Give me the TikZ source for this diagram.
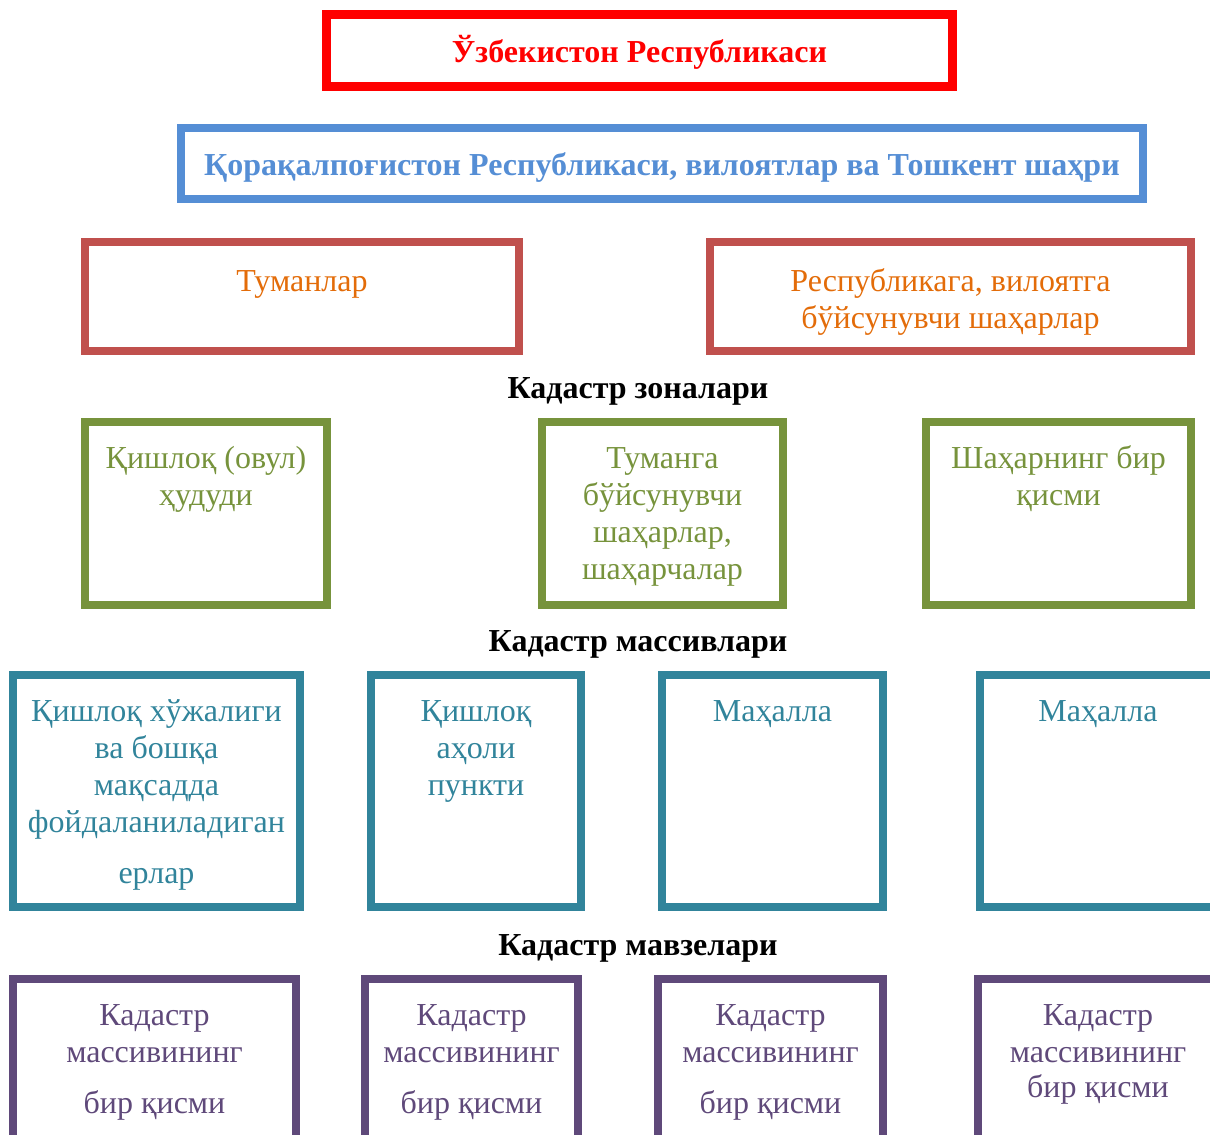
\documentclass[tikz,border=0pt]{standalone}
\usepackage{fontspec}
\setmainfont{Liberation Serif}
\definecolor{cRed}{HTML}{FF0000}
\definecolor{cBlue}{HTML}{558ED5}
\definecolor{cBrown}{HTML}{C0504D}
\definecolor{cOrange}{HTML}{E36C09}
\definecolor{cGreen}{HTML}{77933C}
\definecolor{cTeal}{HTML}{31849B}
\definecolor{cPurple}{HTML}{5F497A}
\begin{document}
\begin{tikzpicture}[x=0.75pt,y=-0.75pt,
  box/.style={draw=#1, line width=6pt, minimum width=0pt, minimum height=0pt, inner sep=0pt, fill=none},
  txt/.style={anchor=base, inner sep=0pt, text=#1, font=\fontsize{24}{28}\selectfont},
  head/.style={anchor=base, inner sep=0pt, font=\fontsize{24}{28}\selectfont\bfseries}
]
\useasboundingbox (0,0) rectangle (1210,1135);
\begin{scope}
\clip (0,0) rectangle (1210,1135);
% level 1
\node[box=cRed, line width=6.75pt, minimum width=626*0.75pt, minimum height=72*0.75pt] (uz) at (639.5,50.5) {};
\node[head, text=cRed] (uzt) at (639.5,62) {Ўзбекистон Республикаси};
% level 2
\node[box=cBlue, minimum width=962*0.75pt, minimum height=71*0.75pt] (reg) at (662,163.5) {};
\node[head, text=cBlue] (regt) at (662,175) {Қорақалпоғистон Республикаси, вилоятлар ва Тошкент шаҳри};
% level 3
\node[box=cBrown, minimum width=434*0.75pt, minimum height=109*0.75pt] (tum) at (302,296.5) {};
\node[txt=cOrange] (tumt) at (302,291) {Туманлар};
\node[box=cBrown, minimum width=481*0.75pt, minimum height=109*0.75pt] (sha) at (950.5,296.5) {};
\node[txt=cOrange] (shat1) at (950.5,291) {Республикага, вилоятга};
\node[txt=cOrange] (shat2) at (950.5,328) {бўйсунувчи шаҳарлар};
% heading
\node[head] (h1) at (638,398) {Кадастр зоналари};
% level 4
\node[box=cGreen, minimum width=242*0.75pt, minimum height=183*0.75pt] (g1) at (206,513.5) {};
\node[txt=cGreen] (g1a) at (206,468) {Қишлоқ (овул)};
\node[txt=cGreen] (g1b) at (206,505) {ҳудуди};
\node[box=cGreen, minimum width=241*0.75pt, minimum height=183*0.75pt] (g2) at (662.5,513.5) {};
\node[txt=cGreen] (g2a) at (662.5,468) {Туманга};
\node[txt=cGreen] (g2b) at (662.5,505) {бўйсунувчи};
\node[txt=cGreen] (g2c) at (662.5,542) {шаҳарлар,};
\node[txt=cGreen] (g2d) at (662.5,579) {шаҳарчалар};
\node[box=cGreen, minimum width=265*0.75pt, minimum height=183*0.75pt] (g3) at (1058.5,513.5) {};
\node[txt=cGreen] (g3a) at (1058.5,468) {Шаҳарнинг бир};
\node[txt=cGreen] (g3b) at (1058.5,505) {қисми};
% heading
\node[head] (h2) at (638,651) {Кадастр массивлари};
% level 5
\node[box=cTeal, minimum width=287*0.75pt, minimum height=232*0.75pt] (m1) at (156.5,791) {};
\node[txt=cTeal] (m1a) at (156.5,721) {Қишлоқ хўжалиги};
\node[txt=cTeal] (m1b) at (156.5,758) {ва бошқа};
\node[txt=cTeal] (m1c) at (156.5,795) {мақсадда};
\node[txt=cTeal] (m1d) at (156.5,832) {фойдаланиладиган};
\node[txt=cTeal] (m1e) at (156.5,883) {ерлар};
\node[box=cTeal, minimum width=210*0.75pt, minimum height=232*0.75pt] (m2) at (476,791) {};
\node[txt=cTeal] (m2a) at (476,721) {Қишлоқ};
\node[txt=cTeal] (m2b) at (476,758) {аҳоли};
\node[txt=cTeal] (m2c) at (476,795) {пункти};
\node[box=cTeal, minimum width=221*0.75pt, minimum height=232*0.75pt] (m3) at (772.5,791) {};
\node[txt=cTeal] (m3a) at (772.5,721) {Маҳалла};
\node[box=cTeal, minimum width=236*0.75pt, minimum height=232*0.75pt] (m4) at (1098,791) {};
\node[txt=cTeal] (m4a) at (1098,721) {Маҳалла};
% heading
\node[head] (h3) at (638,955) {Кадастр мавзелари};
% level 6
\node[box=cPurple, minimum width=283*0.75pt, minimum height=167*0.75pt] (p1) at (154.5,1062.5) {};
\node[txt=cPurple] (p1a) at (154.5,1025) {Кадастр};
\node[txt=cPurple] (p1b) at (154.5,1062) {массивининг};
\node[txt=cPurple] (p1c) at (154.5,1113) {бир қисми};
\node[box=cPurple, minimum width=213*0.75pt, minimum height=167*0.75pt] (p2) at (471.5,1062.5) {};
\node[txt=cPurple] (p2a) at (471.5,1025) {Кадастр};
\node[txt=cPurple] (p2b) at (471.5,1062) {массивининг};
\node[txt=cPurple] (p2c) at (471.5,1113) {бир қисми};
\node[box=cPurple, minimum width=225*0.75pt, minimum height=167*0.75pt] (p3) at (770.5,1062.5) {};
\node[txt=cPurple] (p3a) at (770.5,1025) {Кадастр};
\node[txt=cPurple] (p3b) at (770.5,1062) {массивининг};
\node[txt=cPurple] (p3c) at (770.5,1113) {бир қисми};
\node[box=cPurple, minimum width=240*0.75pt, minimum height=167*0.75pt] (p4) at (1098,1062.5) {};
\node[txt=cPurple] (p4a) at (1098,1025) {Кадастр};
\node[txt=cPurple] (p4b) at (1098,1062) {массивининг};
\node[txt=cPurple] (p4c) at (1098,1097) {бир қисми};
\end{scope}
\end{tikzpicture}
\end{document}
